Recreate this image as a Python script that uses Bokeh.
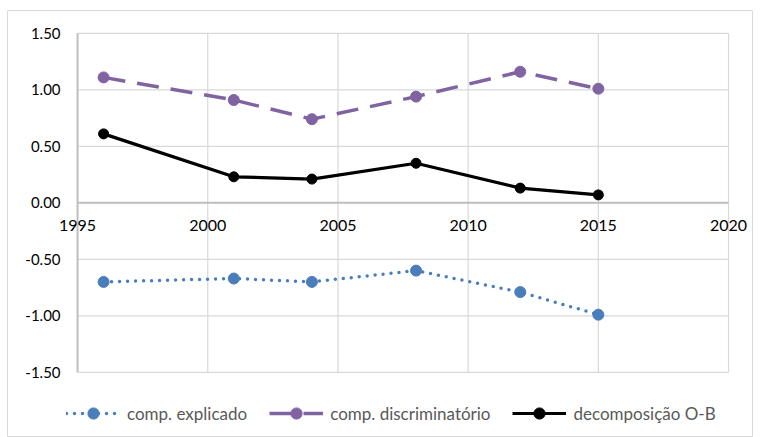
from bokeh.plotting import figure
from bokeh.models import Range1d, Legend, LegendItem
from bokeh.core.properties import value
from bokeh.embed import file_html
from bokeh.resources import INLINE

years = [1996, 2001, 2004, 2008, 2012, 2015]
explicado = [-0.70, -0.67, -0.70, -0.60, -0.79, -0.99]
discriminatorio = [1.11, 0.91, 0.74, 0.94, 1.16, 1.01]
decomposicao = [0.61, 0.23, 0.21, 0.35, 0.13, 0.07]
x_ticks = [1995, 2000, 2005, 2010, 2015, 2020]
y_ticks = [-1.5, -1.0, -0.5, 0.0, 0.5, 1.0, 1.5]
y_labels = ["-1.50", "-1.00", "-0.50", "0.00", "0.50", "1.00", "1.50"]
series_names = ["comp. explicado", "comp. discriminatório", "decomposição O-B"]

FONT = "Lato"
x0, x1 = x_ticks[0], x_ticks[-1]
y0, y1 = y_ticks[0], y_ticks[-1]

# frame fills the chart box; plot area of the original lies inside it
p = figure(width=753, height=437, output_backend="svg", toolbar_location=None,
           x_range=Range1d(1992.31, 2020.92), y_range=Range1d(-2.077, 1.702),
           x_axis_location=None, y_axis_location=None,
           min_border_left=7, min_border_right=1, min_border_top=10, min_border_bottom=0)
p.outline_line_color = "#d9d9d9"
p.outline_line_width = 1
p.xgrid.visible = False
p.ygrid.visible = False
p.background_fill_color = "white"
p.border_fill_color = "white"

grid = "#d9d9d9"
axis_c = "#bfbfbf"
# vertical grid lines
p.segment(x0=x_ticks, y0=[y0] * len(x_ticks), x1=x_ticks, y1=[y1] * len(x_ticks),
          line_color=grid, line_width=1.2)
# horizontal grid lines
p.segment(x0=[x0] * len(y_ticks), y0=y_ticks, x1=[x1] * len(y_ticks), y1=y_ticks,
          line_color=grid, line_width=1.2)
# axis lines: left value axis and zero line
p.segment(x0=[x0], y0=[y0], x1=[x0], y1=[y1], line_color=axis_c, line_width=2)
p.segment(x0=[x0], y0=[0], x1=[x1], y1=[0], line_color=axis_c, line_width=2)

# tick labels
p.text(x=[x0] * len(y_ticks), y=y_ticks, text=y_labels,
       text_font=value(FONT), text_font_size="15px", text_color="#000000",
       text_align="right", text_baseline="middle", x_offset=-17)
p.text(x=x_ticks, y=[0] * len(x_ticks), text=[str(t) for t in x_ticks],
       text_font=value(FONT), text_font_size="16px", text_color="#000000",
       text_align="center", text_baseline="top", y_offset=17)

blue = "#4a7ebb"
purple = "#8064a2"

l1 = p.line(years, explicado, line_color=blue, line_width=3.5, line_dash="0 8", line_cap="round")
m1 = p.scatter(years, explicado, size=11, fill_color=blue, line_color=blue)
l2 = p.line(years, discriminatorio, line_color=purple, line_width=3.5, line_dash="22 12")
m2 = p.scatter(years, discriminatorio, size=11, fill_color=purple, line_color=purple)
l3 = p.line(years, decomposicao, line_color="black", line_width=3.2)
m3 = p.scatter(years, decomposicao, size=10, fill_color="black", line_color="black")

legend = Legend(items=[LegendItem(label=series_names[0], renderers=[l1, m1]),
                       LegendItem(label=series_names[1], renderers=[l2, m2]),
                       LegendItem(label=series_names[2], renderers=[l3, m3])],
                orientation="horizontal", location=(59, 10),
                glyph_width=54, glyph_height=28, label_standoff=7, spacing=22,
                label_text_font=FONT, label_text_font_size="17px", label_text_color="#595959",
                border_line_color=None, background_fill_alpha=0, padding=0, margin=0)
p.add_layout(legend)

open("out.html", "w").write(file_html(p, INLINE))
